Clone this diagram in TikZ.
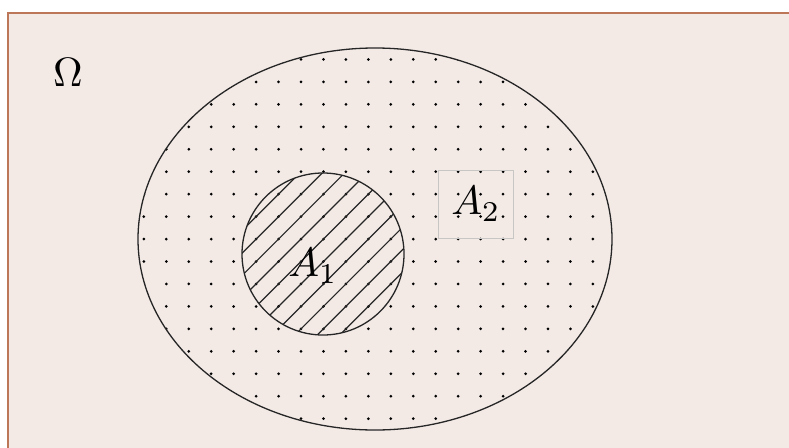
\documentclass[tikz,border=0pt]{standalone}
\usepackage{graphicx}
\usetikzlibrary{shapes.geometric}
\newcommand{\biglbl}[1]{\scalebox{4.1}{#1}}
\begin{document}
\begin{tikzpicture}[x=1pt,y=-1pt]
\definecolor{bgfill}{RGB}{243,234,230}
\definecolor{framec}{RGB}{188,118,88}
\definecolor{boxc}{RGB}{200,198,196}
\tikzset{
  outline/.style={draw=black!85,line width=1.3pt},
  hatch/.style={draw=black!85,line width=1.2pt},
  lbl/.style={inner sep=0pt},
}
\useasboundingbox (0,0) rectangle (789,447);
\fill[white] (0,0) rectangle (789,447);
\fill[bgfill] (8,13) rectangle (800,460);
\draw[framec,line width=2pt] (8,460) -- (8,13) -- (800,13);
% big set with dots
\begin{scope}
  \clip (375,239) ellipse [x radius=237,y radius=191];
  \foreach \k in {-15,...,9}{
    \foreach \m in {-6,...,12}{
      \fill[black] ({435.7+22.45*\k},{171.7+22.45*\m}) circle (1.5);
    }
  }
\end{scope}
\node[outline,ellipse,minimum width=474pt,minimum height=382pt,inner sep=0pt] (omegaset) at (375,239) {};
% A1 hatch
\begin{scope}
  \clip (323,254) circle (81);
  \foreach \n in {-8,...,5}{
    \pgfmathsetmacro{\hc}{607.4+22.45*\n}
    \draw[hatch] ({\hc-100},100) -- ({\hc-420},420);
  }
\end{scope}
\node[outline,circle,minimum size=162pt,inner sep=0pt] (aone) at (323,254) {};
\node[lbl] (aonelbl) at (313,266) {\biglbl{$A_1$}};
% A2
\node[draw=boxc,line width=1.2pt,minimum width=75pt,minimum height=68pt,inner sep=0pt] (atwobox) at (475.8,204.5) {};
\node[lbl] (atwolbl) at (476,204) {\biglbl{$A_2$}};
% Omega
\node[lbl] (omegalbl) at (68,72) {\biglbl{$\Omega$}};
\end{tikzpicture}
\end{document}
